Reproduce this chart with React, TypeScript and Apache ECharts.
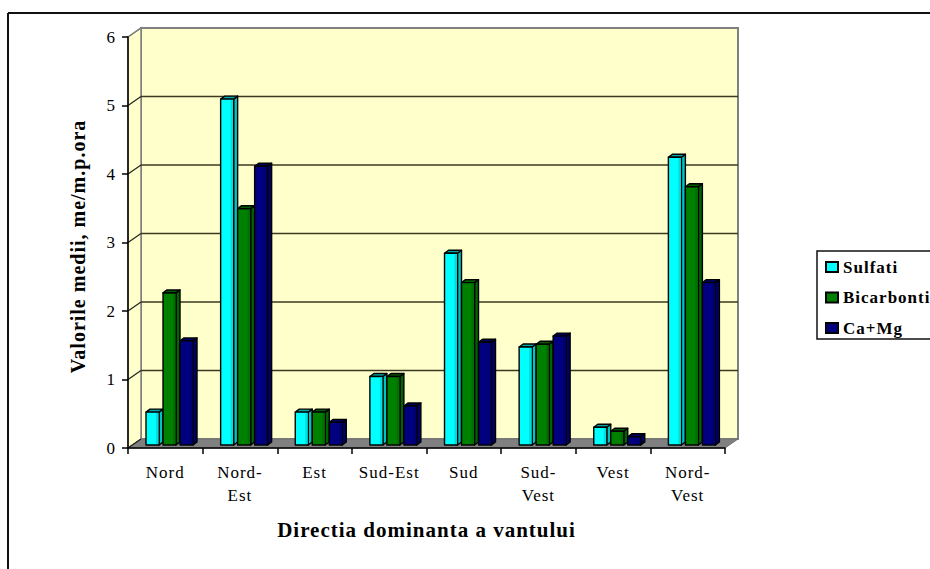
import React, { useEffect, useRef } from "react";
import * as echarts from "echarts";

const categories = ["Nord", "Nord-\nEst", "Est", "Sud-Est", "Sud", "Sud-\nVest", "Vest", "Nord-\nVest"];
const sulfati = [0.48, 5.05, 0.48, 1.0, 2.8, 1.43, 0.26, 4.2];
const bicarbonati = [2.22, 3.45, 0.48, 1.0, 2.37, 1.47, 0.2, 3.77];
const caMg = [1.52, 4.07, 0.33, 0.57, 1.5, 1.59, 0.12, 2.37];
const yTicks = [1, 2, 3, 4, 5, 6];
const FONT = "'Liberation Serif', 'Times New Roman', serif";

const DX = 13;
const DY = -9;

function wallItem(params: any, api: any) {
  const y0 = api.coord([0, 0])[1];
  const x1 = params.coordSys.x + params.coordSys.width;
  const top = api.coord([0, 6])[1];
  const left = params.coordSys.x;
  const wallFill = "#FFFFCC";
  const children: any[] = [
    { type: "polygon", shape: { points: [[left + DX, top + DY], [x1 + DX, top + DY], [x1 + DX, y0 + DY], [left + DX, y0 + DY]] }, style: { fill: wallFill, stroke: "#808080", lineWidth: 2 } },
    { type: "polygon", shape: { points: [[left, top], [left + DX, top + DY], [left + DX, y0 + DY], [left, y0]] }, style: { fill: wallFill, stroke: "#808080", lineWidth: 1.5 } },
    { type: "polygon", shape: { points: [[left, y0], [left + DX, y0 + DY], [x1 + DX, y0 + DY], [x1, y0]] }, style: { fill: "#808080", stroke: "#707070", lineWidth: 1 } },
  ];
  yTicks.forEach((t) => {
    const y = api.coord([0, t])[1];
    if (t < 6) {
      children.push({ type: "line", shape: { x1: left + DX, y1: y + DY, x2: x1 + DX, y2: y + DY }, style: { stroke: "#3a3a20", lineWidth: 1.5 } });
    }
    children.push({ type: "line", shape: { x1: left, y1: y, x2: left + DX, y2: y + DY }, style: { stroke: t === 6 ? "#808080" : "#222", lineWidth: 1.2 } });
  });
  children.push({ type: "line", shape: { x1: left, y1: y0, x2: left + DX, y2: y0 + DY }, style: { stroke: "#222", lineWidth: 1.2 } });
  return { type: "group", children };
}

function barRenderer(index: number, main: string, band: string, side: string, topFill: string) {
  return (_params: any, api: any) => {
    const cat = api.value(0);
    const val = api.value(1);
    const [cx, base] = api.coord([cat, 0]);
    const yTop = api.coord([cat, val])[1];
    const W = 13;
    const D = 4;
    const L = cx + 4.2 - 6.5 + (index - 1) * 17;
    const b = base - 3;
    const t = yTop - 3;
    const stroke = { stroke: "#000", lineWidth: 1.4, lineJoin: "round" };
    return {
      type: "group",
      children: [
        { type: "polygon", shape: { points: [[L + W, t], [L + W + D, t - 3], [L + W + D, b - 3], [L + W, b]] }, style: { fill: side, ...stroke } },
        { type: "polygon", shape: { points: [[L, t], [L + D, t - 3], [L + W + D, t - 3], [L + W, t]] }, style: { fill: topFill, ...stroke } },
        { type: "rect", shape: { x: L, y: t, width: W, height: b - t }, style: { fill: main, ...stroke } },
        { type: "rect", shape: { x: L + W - 3, y: t + 1, width: 2.4, height: b - t - 2 }, style: { fill: band } },
      ],
    };
  };
}

const barSeries = (name: string, values: number[], index: number, main: string, band: string, side: string, topFill: string) => ({
  name,
  type: "custom",
  z: 3,
  clip: false,
  itemStyle: { color: main, borderColor: "#000", borderWidth: 1.2 },
  encode: { x: 0, y: 1 },
  data: values.map((v, i) => [i, v]),
  renderItem: barRenderer(index, main, band, side, topFill),
});

export default function App() {
  const ref = useRef<HTMLDivElement>(null);
  useEffect(() => {
    const chart = echarts.init(ref.current!, null, { renderer: "svg" });
    chart.setOption({
      animation: false,
      backgroundColor: "#fff",
      textStyle: { fontFamily: FONT, color: "#000" },
      grid: { left: 128, right: 205, top: 37, bottom: 121 },
      legend: {
        orient: "vertical",
        left: 817,
        top: 251,
        padding: [7.5, 60, 2.5, 8],
        itemWidth: 12,
        itemHeight: 10,
        itemGap: 13.5,
        icon: "rect",
        backgroundColor: "#fff",
        borderColor: "#111",
        borderWidth: 1.5,
        textStyle: { fontFamily: FONT, fontWeight: "bold", fontSize: 17, color: "#000" },
        data: ["Sulfati", "Bicarbonti", "Ca+Mg"],
      },
      xAxis: {
        type: "category",
        data: categories,
        z: 5,
        name: "Directia dominanta a vantului",
        nameLocation: "middle",
        nameGap: 71,
        nameMoveOverlap: false,
        nameTextStyle: { fontFamily: FONT, fontWeight: "bold", fontSize: 21, color: "#000" },
        axisLine: { lineStyle: { color: "#000", width: 1.5 } },
        axisTick: { show: true, length: 6, lineStyle: { color: "#000", width: 1.5 } },
        axisLabel: { fontFamily: FONT, fontSize: 17, color: "#000", margin: 13, lineHeight: 23, interval: 0 },
      },
      yAxis: {
        type: "value",
        min: 0,
        max: 6,
        interval: 1,
        z: 5,
        name: "Valorile medii, me/m.p.ora",
        nameLocation: "middle",
        nameGap: 40,
        nameMoveOverlap: false,
        nameTextStyle: { fontFamily: FONT, fontWeight: "bold", fontSize: 20, color: "#000", padding: [0, 8, 0, 0] },
        axisLine: { show: true, lineStyle: { color: "#000", width: 1.5 } },
        axisTick: { show: true, length: 6, lineStyle: { color: "#000", width: 1.5 } },
        axisLabel: { fontFamily: FONT, fontSize: 17, color: "#000", margin: 12 },
        splitLine: { show: false },
      },
      graphic: [
        { type: "line", shape: { x1: 8, y1: 13, x2: 930, y2: 13 }, style: { stroke: "#111", lineWidth: 2 }, silent: true },
        { type: "line", shape: { x1: 8, y1: 13, x2: 8, y2: 569 }, style: { stroke: "#111", lineWidth: 2 }, silent: true },
      ],
      series: [
        { type: "custom", name: "wall", z: 1, clip: false, silent: true, data: [[0, 0]], encode: { x: 0, y: 1 }, renderItem: wallItem },
        barSeries("Sulfati", sulfati, 0, "#00FFFF", "#00DDDD", "#00C4C4", "#00A8A8"),
        barSeries("Bicarbonti", bicarbonati, 1, "#008000", "#007000", "#006400", "#005a00"),
        barSeries("Ca+Mg", caMg, 2, "#000080", "#000070", "#000068", "#00005c"),
      ],
    });
    return () => chart.dispose();
  }, []);
  return (
    <div
      ref={ref}
      style={{ position: "fixed", left: 0, top: 0, width: 930, height: 569, letterSpacing: "1px", overflow: "hidden" }}
    />
  );
}
